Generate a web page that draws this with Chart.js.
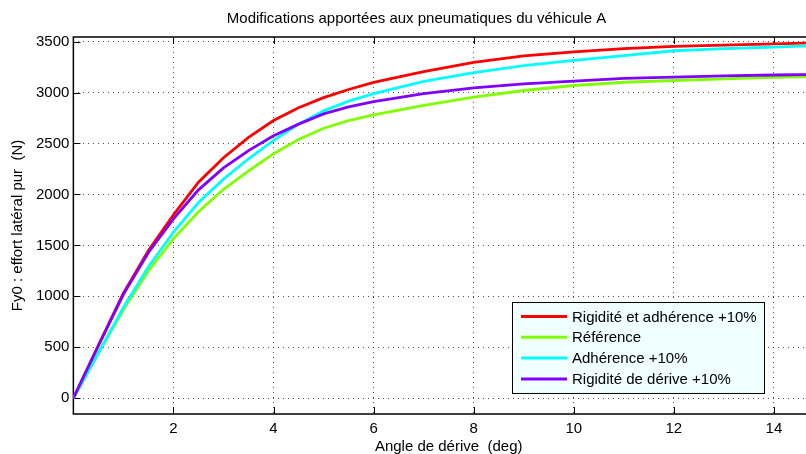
<!DOCTYPE html>
<html>
<head>
<meta charset="utf-8">
<script src="https://cdn.jsdelivr.net/npm/chart.js@4.4.1/dist/chart.umd.min.js"></script>
<style>
  html, body { margin: 0; padding: 0; background: #fff; overflow: hidden; }
  #wrap { width: 840px; height: 454px; }
</style>
</head>
<body>
<div id="wrap"><canvas id="chart" width="840" height="454"></canvas></div>
<script>
// slip angle (deg) and lateral force Fy0 (N)
const angles = [0, 0.5, 1, 1.5, 2, 2.5, 3, 3.5, 4, 4.5, 5, 5.5, 6, 7, 8, 9, 10, 11, 12, 13, 14, 15];
const rigiditeAdherence = [0, 520, 1030, 1450, 1800, 2120, 2360, 2560, 2725, 2850, 2950, 3030, 3100, 3205, 3295, 3360, 3400, 3430, 3452, 3466, 3477, 3490];
const reference = [0, 440, 870, 1250, 1566, 1830, 2050, 2230, 2400, 2540, 2650, 2725, 2780, 2873, 2955, 3020, 3069, 3101, 3118, 3135, 3150, 3160];
const adherence = [0, 445, 890, 1290, 1630, 1920, 2150, 2350, 2530, 2690, 2820, 2915, 2990, 3110, 3195, 3265, 3315, 3362, 3410, 3430, 3446, 3465];
const rigidite = [0, 515, 1020, 1430, 1760, 2045, 2260, 2430, 2575, 2690, 2790, 2860, 2910, 2990, 3045, 3085, 3112, 3138, 3152, 3163, 3172, 3178];

const seriesNames = ['Rigidité et adhérence +10%', 'Référence', 'Adhérence +10%', 'Rigidité de dérive +10%'];
const seriesColors = ['#ff0000', '#80ff00', '#00ffff', '#8000ff'];
const xTicks = [2, 4, 6, 8, 10, 12, 14];
const yTicks = [0, 500, 1000, 1500, 2000, 2500, 3000, 3500];

const FONT = 'Liberation Sans, Arial, Helvetica, sans-serif';

const toPoints = values => values.map((v, i) => ({ x: angles[i], y: v }));

// axes box + inward tick marks (matlab style)
const axesBox = {
    id: 'axesBox',
    beforeDatasetsDraw(chart) {
        const { ctx, chartArea, scales } = chart;
        const len = 7;
        ctx.save();
        ctx.strokeStyle = '#000';
        ctx.lineWidth = 1;
        ctx.beginPath();
        xTicks.forEach(v => {
            const px = Math.round(scales.x.getPixelForValue(v)) + 0.5;
            ctx.moveTo(px, chartArea.bottom);
            ctx.lineTo(px, chartArea.bottom - len);
            ctx.moveTo(px, chartArea.top);
            ctx.lineTo(px, chartArea.top + len);
        });
        yTicks.forEach(v => {
            const py = Math.round(scales.y.getPixelForValue(v)) + 0.5;
            ctx.moveTo(chartArea.left, py);
            ctx.lineTo(chartArea.left + len, py);
            ctx.moveTo(chartArea.right, py);
            ctx.lineTo(chartArea.right - len, py);
        });
        ctx.stroke();
        ctx.lineWidth = 1.5;
        ctx.strokeRect(chartArea.left, chartArea.top, chartArea.right - chartArea.left, chartArea.bottom - chartArea.top);
        ctx.restore();
    }
};

// legend box inside the plot, lower right
const boxLegend = {
    id: 'boxLegend',
    afterDraw(chart) {
        const { ctx, chartArea } = chart;
        const w = 252, h = 91, rowH = 20.8;
        const right = chartArea.right - 60;
        const bottom = chartArea.bottom - 21;
        const left = right - w, top = bottom - h;
        ctx.save();
        ctx.fillStyle = '#f0ffff';
        ctx.fillRect(left, top, w, h);
        ctx.strokeStyle = '#000';
        ctx.lineWidth = 1;
        ctx.strokeRect(Math.round(left) + 0.5, Math.round(top) + 0.5, w, h);
        ctx.font = '15px ' + FONT;
        ctx.textBaseline = 'middle';
        chart.data.datasets.forEach((ds, i) => {
            const y = top + 14.5 + i * rowH;
            ctx.strokeStyle = ds.borderColor;
            ctx.lineWidth = 3;
            ctx.beginPath();
            ctx.moveTo(left + 9, y);
            ctx.lineTo(left + 55, y);
            ctx.stroke();
            ctx.fillStyle = '#000';
            ctx.fillText(ds.label, left + 60, y + 1);
        });
        ctx.restore();
    }
};

const seriesData = [rigiditeAdherence, reference, adherence, rigidite];
const drawOrder = [3, 2, 1, 0];

new Chart(document.getElementById('chart').getContext('2d'), {
    type: 'line',
    data: {
        datasets: seriesData.map((values, i) => ({
            label: seriesNames[i],
            data: toPoints(values),
            borderColor: seriesColors[i],
            backgroundColor: seriesColors[i],
            borderWidth: 2.8,
            pointRadius: 0,
            tension: 0,
            fill: false,
            order: drawOrder[i]
        }))
    },
    options: {
        responsive: false,
        animation: false,
        events: [],
        layout: { padding: { left: 9, right: 16, top: 0, bottom: 0 } },
        plugins: {
            legend: { display: false },
            tooltip: { enabled: false },
            title: {
                display: true,
                text: 'Modifications apportées aux pneumatiques du véhicule A',
                color: '#000',
                font: { family: FONT, size: 15, weight: 'normal' },
                padding: { top: 10, bottom: 9 }
            }
        },
        scales: {
            x: {
                type: 'linear',
                min: 0,
                max: 15,
                afterBuildTicks: scale => { scale.ticks = xTicks.map(v => ({ value: v })); },
                grid: { color: 'rgba(0,0,0,0.7)', lineWidth: 1, drawTicks: false },
                border: { display: false, dash: [1, 4] },
                ticks: { color: '#000', font: { family: FONT, size: 15, lineHeight: 1 }, padding: 7, maxRotation: 0 },
                title: {
                    display: true,
                    text: 'Angle de dérive  (deg)',
                    color: '#000',
                    font: { family: FONT, size: 15, lineHeight: 1 },
                    padding: { top: -4, bottom: 0 }
                }
            },
            y: {
                min: -155,
                max: 3545,
                afterBuildTicks: scale => { scale.ticks = yTicks.map(v => ({ value: v })); },
                grid: { color: 'rgba(0,0,0,0.7)', lineWidth: 1, drawTicks: false },
                border: { display: false, dash: [1, 4] },
                ticks: {
                    color: '#000',
                    font: { family: FONT, size: 15 },
                    padding: 4,
                    callback: v => String(v)
                },
                title: {
                    display: true,
                    text: 'Fy0 : effort latéral pur  (N)',
                    color: '#000',
                    font: { family: FONT, size: 15 },
                    padding: { top: 0, bottom: 5 }
                }
            }
        }
    },
    plugins: [axesBox, boxLegend]
});
</script>
</body>
</html>
